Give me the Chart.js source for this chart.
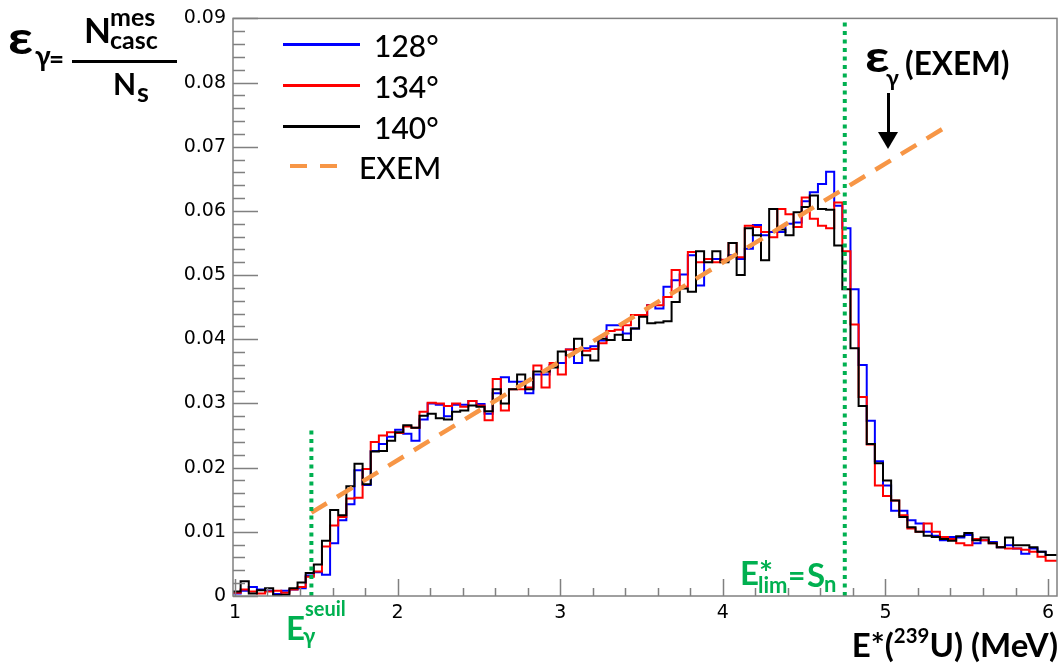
<!DOCTYPE html>
<html><head><meta charset="utf-8">
<script src="https://cdn.jsdelivr.net/npm/chart.js@4.4.1/dist/chart.umd.min.js"></script>
<style>
html,body{margin:0;padding:0;background:#fff;}
#wrap{position:relative;width:1064px;height:669px;overflow:hidden;background:#fff;}
#c{position:absolute;left:0;top:0;}
.t{position:absolute;line-height:1;white-space:nowrap;font-family:Lato,"Noto Sans",sans-serif;color:#000;}
.b{font-weight:700;}
.m{font-weight:500;}
.g{color:#00B050;}
.ln{position:absolute;}
.wide{transform:scaleX(1.22);transform-origin:0 0;}
sup{font-size:0.62em;position:relative;top:-0.15em;vertical-align:top;}
</style></head><body>
<div id="wrap">
<canvas id="c" width="1064" height="669"></canvas>

<!-- y title: epsilon_gamma = N^mes_casc / N_s -->
<div class="t b wide" style="left:8px;top:15px;font-size:45px">ε</div>
<div class="t b" style="left:35px;top:41px;font-size:28px">γ</div>
<div class="t b" style="left:49px;top:45px;font-size:26px">=</div>
<div class="ln" style="left:72px;top:59.5px;width:105px;height:3px;background:#000"></div>
<div class="t b" style="left:84px;top:12px;font-size:35px">N</div>
<div class="t b" style="left:110px;top:4px;font-size:25px">mes</div>
<div class="t b" style="left:110px;top:27px;font-size:25px">casc</div>
<div class="t b" style="left:113px;top:68px;font-size:30px">N</div>
<div class="t b" style="left:137px;top:78px;font-size:27px">s</div>

<!-- epsilon_gamma(EXEM) with arrow -->
<div class="t b wide" style="left:865px;top:33px;font-size:44px">ε</div>
<div class="t b" style="left:886px;top:66px;font-size:23px">γ</div>
<div class="t b" style="left:905px;top:48px;font-size:31.5px">(EXEM)</div>
<div class="ln" style="left:886.5px;top:93px;width:3px;height:42px;background:#000"></div>
<div class="ln" style="left:878px;top:132px;width:0;height:0;border-left:10px solid transparent;border-right:10px solid transparent;border-top:17px solid #000"></div>

<!-- green labels -->
<div class="t b g" style="left:740px;top:556px;font-size:33px">E*</div>
<div class="t b g" style="left:758px;top:574px;font-size:22px">lim</div>
<div class="t b g" style="left:788px;top:559px;font-size:30px">=</div>
<div class="t b g" style="left:807px;top:558px;font-size:33px">S</div>
<div class="t b g" style="left:824px;top:573px;font-size:22px">n</div>

<div class="t b g" style="left:286px;top:611px;font-size:33px">E</div>
<div class="t b g" style="left:305px;top:598px;font-size:20px">seuil</div>
<div class="t b g" style="left:303px;top:625px;font-size:22px">γ</div>

<!-- x title -->
<div class="t b" style="right:6px;top:628px;font-size:33px">E*(<sup>239</sup>U) (MeV)</div>

<div id="legend"></div>
</div>
<script>
// ---------------- data ----------------
const binLow = 0.985;      // lower edge of first bin (MeV)
const binWidth = 0.05;     // bin width (MeV)

const eff128 = [
 0.0005,0.0004,0.0008,0.0014,0.0010,0.0008,0.0003,0.0008,0.0010,0.0012,
 0.0032,0.0037,0.0033,0.0082,0.0118,0.0143,0.0196,0.0173,0.0226,0.0237,
 0.0248,0.0259,0.0253,0.0242,0.0275,0.0300,0.0298,0.0280,0.0298,0.0298,
 0.0304,0.0299,0.0284,0.0316,0.0341,0.0334,0.0334,0.0316,0.0345,0.0345,
 0.0360,0.0363,0.0384,0.0363,0.0386,0.0389,0.0398,0.0422,0.0422,0.0409,
 0.0417,0.0438,0.0453,0.0448,0.0482,0.0492,0.0501,0.0531,0.0484,0.0525,
 0.0525,0.0522,0.0531,0.0525,0.0541,0.0578,0.0562,0.0567,0.0567,0.0580,
 0.0582,0.0615,0.0629,0.0642,0.0661,0.0608,0.0573,0.0478,0.0360,0.0273,
 0.0210,0.0172,0.0133,0.0133,0.0118,0.0113,0.0100,0.0094,0.0087,0.0092,
 0.0091,0.0095,0.0082,0.0087,0.0084,0.0076,0.0079,0.0074,0.0066,0.0074,
 0.0069,0.0064];

const eff134 = [
 0.0007,0.0005,0.0010,0.0007,0.0004,0.0007,0.0008,0.0005,0.0010,0.0014,
 0.0030,0.0038,0.0077,0.0110,0.0123,0.0152,0.0153,0.0198,0.0240,0.0250,
 0.0255,0.0254,0.0264,0.0262,0.0287,0.0301,0.0300,0.0296,0.0300,0.0295,
 0.0304,0.0297,0.0274,0.0338,0.0289,0.0322,0.0322,0.0325,0.0359,0.0325,
 0.0363,0.0345,0.0384,0.0385,0.0382,0.0385,0.0394,0.0413,0.0415,0.0422,
 0.0438,0.0438,0.0453,0.0453,0.0466,0.0508,0.0482,0.0536,0.0520,0.0525,
 0.0520,0.0524,0.0550,0.0528,0.0577,0.0575,0.0567,0.0559,0.0603,0.0595,
 0.0575,0.0621,0.0588,0.0577,0.0573,0.0613,0.0537,0.0423,0.0310,0.0236,
 0.0172,0.0156,0.0149,0.0126,0.0105,0.0100,0.0113,0.0100,0.0092,0.0089,
 0.0082,0.0079,0.0089,0.0087,0.0082,0.0076,0.0074,0.0074,0.0072,0.0069,
 0.0061,0.0055];

const eff140 = [
 0.0007,0.0007,0.0023,0.0004,0.0009,0.0012,0.0001,0.0002,0.0012,0.0021,
 0.0036,0.0049,0.0086,0.0134,0.0126,0.0171,0.0206,0.0174,0.0225,0.0226,
 0.0242,0.0255,0.0266,0.0262,0.0281,0.0284,0.0277,0.0275,0.0287,0.0289,
 0.0297,0.0295,0.0288,0.0322,0.0300,0.0322,0.0345,0.0322,0.0350,0.0350,
 0.0356,0.0381,0.0375,0.0401,0.0375,0.0367,0.0401,0.0399,0.0407,0.0399,
 0.0417,0.0435,0.0425,0.0426,0.0428,0.0458,0.0479,0.0474,0.0537,0.0520,
 0.0537,0.0520,0.0550,0.0500,0.0573,0.0562,0.0523,0.0603,0.0571,0.0562,
 0.0598,0.0606,0.0624,0.0603,0.0602,0.0546,0.0478,0.0386,0.0296,0.0237,
 0.0207,0.0180,0.0149,0.0123,0.0107,0.0100,0.0094,0.0092,0.0089,0.0086,
 0.0093,0.0098,0.0087,0.0091,0.0082,0.0076,0.0091,0.0079,0.0079,0.0076,
 0.0069,0.0064];

const exemX = [1.47, 5.385];
const exemY = [0.0130, 0.0733];

const seuilX = 1.47, seuilTop = 0.026;
const snX = 4.75, snTop = 0.09;

const seriesLabels = ['128°', '134°', '140°', 'EXEM'];
const xTickValues = [1, 2, 3, 4, 5, 6];
const yTickValues = [0, 0.01, 0.02, 0.03, 0.04, 0.05, 0.06, 0.07, 0.08, 0.09];
const xMinorStep = 0.2, yMinorStep = 0.002;

// ---------------- build ----------------
function histPoints(vals){
  const pts = vals.map((v,i)=>({x: binLow + i*binWidth, y: v}));
  pts.push({x: binLow + vals.length*binWidth, y: vals[vals.length-1]});
  return pts;
}
const colBlue='#0000ff', colRed='#ff0000', colBlack='#000000', colOrange='#F79646', colGreen='#00B050';

const axisDecor = {
  id:'axisDecor',
  afterDatasetsDraw(chart){
    const {ctx, chartArea:a, scales:{x,y}} = chart;
    ctx.save();
    ctx.strokeStyle='#808080'; ctx.lineWidth=1.5;
    ctx.strokeRect(a.left, a.top, a.right-a.left, a.bottom-a.top);
    ctx.beginPath();
    const x0 = xTickValues[0], x1 = xTickValues[xTickValues.length-1];
    const nx = Math.round((x1-x0)/xMinorStep);
    for(let i=0;i<=nx;i++){
      const v = x0 + i*xMinorStep;
      const px = Math.round(x.getPixelForValue(v))+0.5;
      const len = (i % Math.round(1/xMinorStep) === 0) ? 17 : 8;
      ctx.moveTo(px, a.bottom); ctx.lineTo(px, a.bottom-len);
    }
    const ny = Math.round(0.09/yMinorStep);
    for(let i=0;i<=ny;i++){
      const v = i*yMinorStep;
      const py = Math.round(y.getPixelForValue(v))+0.5;
      const len = (i % 5 === 0) ? 25 : 12;
      ctx.moveTo(a.left, py); ctx.lineTo(a.left+len, py);
    }
    ctx.stroke();
    ctx.restore();
  }
};

const tickFont = {family:'"DejaVu Sans", "Liberation Sans", Arial, sans-serif', size:19};
const chart = new Chart(document.getElementById('c'), {
  type:'line',
  data:{datasets:[
    {label:'seuil', data:[{x:seuilX,y:0},{x:seuilX,y:seuilTop}], borderColor:colGreen, borderWidth:4, borderDash:[4,4.5], order:0},
    {label:'Sn', data:[{x:snX,y:0},{x:snX,y:snTop}], borderColor:colGreen, borderWidth:4, borderDash:[4,4.5], order:0},
    {label:seriesLabels[3], data:exemX.map((x,i)=>({x, y:exemY[i]})), borderColor:colOrange, borderWidth:4.5, borderDash:[18,12], order:1},
    {label:seriesLabels[2], data:histPoints(eff140), borderColor:colBlack, borderWidth:2, stepped:'after', order:2},
    {label:seriesLabels[1], data:histPoints(eff134), borderColor:colRed, borderWidth:2, stepped:'after', order:3},
    {label:seriesLabels[0], data:histPoints(eff128), borderColor:colBlue, borderWidth:2, stepped:'after', order:4}
  ]},
  options:{
    responsive:false, animation:false, events:[],
    elements:{point:{radius:0}, line:{tension:0, fill:false, borderCapStyle:'butt'}},
    layout:{padding:{top:15, right:7, left:0, bottom:0}},
    plugins:{legend:{display:false}, tooltip:{enabled:false}},
    scales:{
      x:{type:'linear', min:0.988, max:6.055,
         afterFit(s){ s.height = 73; },
         afterBuildTicks(s){ s.ticks = xTickValues.map(v=>({value:v})); },
         grid:{display:false, drawTicks:false}, border:{display:false},
         ticks:{autoSkip:false, maxRotation:0, padding:6, color:'#000', font:tickFont, callback:v=>String(v)}},
      y:{type:'linear', min:0, max:0.09,
         afterFit(s){ s.width = 233; },
         afterBuildTicks(s){ s.ticks = yTickValues.map(v=>({value:v})); },
         grid:{display:false, drawTicks:false}, border:{display:false},
         ticks:{padding:7, color:'#000', font:tickFont, callback:v=> Math.abs(v)<1e-9 ? '0' : v.toFixed(2)}}
    }
  },
  plugins:[axisDecor]
});

// ---------------- legend (HTML) ----------------
const lg = document.getElementById('legend');
const legendRows = [
  {label:seriesLabels[0], color:colBlue, y:44, dashed:false},
  {label:seriesLabels[1], color:colRed, y:85, dashed:false},
  {label:seriesLabels[2], color:colBlack, y:126, dashed:false},
  {label:seriesLabels[3], color:colOrange, y:166, dashed:true}
];
legendRows.forEach(r=>{
  if(!r.dashed){
    const d=document.createElement('div'); d.className='ln';
    d.style.cssText=`left:283px;top:${r.y-1.5}px;width:77px;height:3px;background:${r.color}`;
    lg.appendChild(d);
  } else {
    [290,320].forEach(x0=>{
      const d=document.createElement('div'); d.className='ln';
      d.style.cssText=`left:${x0}px;top:${r.y-2}px;width:17px;height:4px;background:${r.color}`;
      lg.appendChild(d);
    });
  }
  const t=document.createElement('div'); t.className='t m';
  t.style.cssText=`left:${r.dashed?359:374}px;top:${r.y-14}px;font-size:30px`;
  t.textContent=r.label;
  lg.appendChild(t);
});
</script>
</body></html>
